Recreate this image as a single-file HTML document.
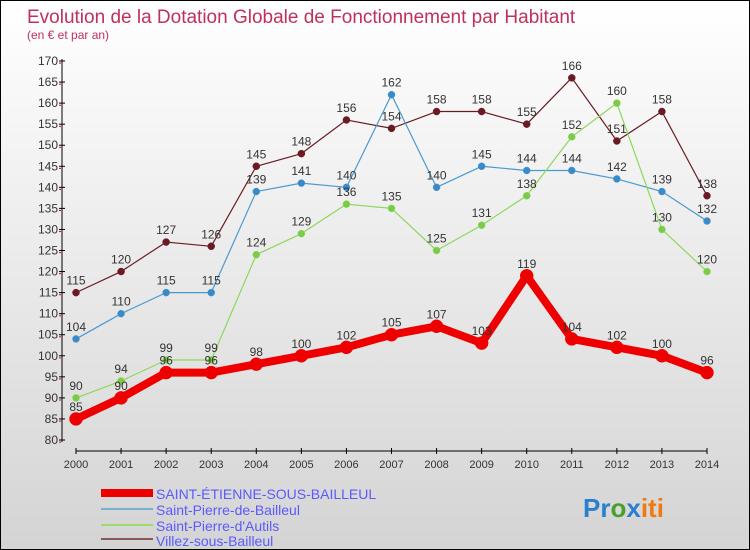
<!DOCTYPE html>
<html><head><meta charset="utf-8"><style>
body{margin:0}
#c{position:relative;width:748px;height:548px;border:1px solid #000;background:linear-gradient(#ffffff,#d4d4d4);font-family:"Liberation Sans",sans-serif;overflow:hidden}
text{font-family:"Liberation Sans",sans-serif}
</style></head><body>
<div id="c">
<svg id="s" width="748" height="548">
<text x="26" y="22" font-size="19" fill="#c0305a">Evolution de la Dotation Globale de Fonctionnement par Habitant</text>
<text x="26" y="38" font-size="12" fill="#c0305a">(en € et par an)</text>
<g id="axes"></g><g id="series"></g>
<g>
<rect x="100" y="488" width="52" height="8" fill="#e00"/>
<text x="155" y="498" font-size="14" fill="#5a5aff">SAINT-ÉTIENNE-SOUS-BAILLEUL</text>
<rect x="100" y="507" width="52" height="2" fill="#7aaed0"/>
<text x="155" y="514" font-size="14" fill="#5a5aff">Saint-Pierre-de-Bailleul</text>
<rect x="100" y="523" width="52" height="2" fill="#9edc6e"/>
<text x="155" y="530" font-size="14" fill="#5a5aff">Saint-Pierre-d'Autils</text>
<rect x="100" y="537" width="52" height="2" fill="#8a5a5a"/>
<text x="155" y="545" font-size="14" fill="#5a5aff">Villez-sous-Bailleul</text>
</g>
<text x="582" y="516" font-size="26" font-weight="bold"><tspan fill="#2a7fd0">Pr</tspan><tspan fill="#4aa02a">o</tspan><tspan fill="#2a7fd0">x</tspan><tspan fill="#f07a10">iti</tspan></text>
</svg>
<script>
const years=[2000,2001,2002,2003,2004,2005,2006,2007,2008,2009,2010,2011,2012,2013,2014];
const yTicks=[80,85,90,95,100,105,110,115,120,125,130,135,140,145,150,155,160,165,170];
const stEtienne=[85,90,96,96,98,100,102,105,107,103,119,104,102,100,96];
const stEtienneLabels=[85,90,96,96,98,100,102,105,107,103,119,104,102,100,96];
const spBailleul=[104,110,115,115,139,141,140,162,140,145,144,144,142,139,132];
const spAutils=[90,94,99,99,124,129,136,135,125,131,138,152,160,130,120];
const villez=[115,120,127,126,145,148,156,154,158,158,155,166,151,158,138];
const NS="http://www.w3.org/2000/svg";
const xS=i=>75+i*(631/14);
const yS=v=>439-(v-80)*(379/90);
function mk(p,t,a){const e=document.createElementNS(NS,t);for(const k in a)e.setAttribute(k,a[k]);p.appendChild(e);return e;}
const ax=document.getElementById('axes');
let l=mk(ax,'line',{x1:61,y1:58,x2:61,y2:441,stroke:'#000'});


l=mk(ax,'line',{x1:75,y1:450,x2:706,y2:450,stroke:'#000'});


yTicks.forEach(v=>{const y=yS(v);
mk(ax,'line',{x1:58,y1:y,x2:64,y2:y,stroke:'#000'});
mk(ax,'line',{x1:58,y1:y+2.1*1.0,x2:60,y2:y+2.1,stroke:'#e00'});
const t=mk(ax,'text',{x:57,y:y+4,'font-size':12,'text-anchor':'end',fill:'#333'});t.textContent=v;

});
years.forEach((yr,i)=>{const x=xS(i);
mk(ax,'line',{x1:x,y1:447,x2:x,y2:453,stroke:'#000'});
const t=mk(ax,'text',{x:x,y:467,'font-size':11,'text-anchor':'middle',fill:'#333'});t.textContent=yr;

});
const sg=document.getElementById('series');
function series(vals,color,w,r,name,dot){
const g=mk(sg,'g',{});


mk(g,'polyline',{points:vals.map((v,i)=>xS(i)+','+yS(v)).join(' '),fill:'none',stroke:color,'stroke-width':w,'stroke-linejoin':'round'});
vals.forEach((v,i)=>{const c=mk(g,'circle',{cx:xS(i),cy:yS(v),r:r,fill:dot,stroke:color,'stroke-width':0.5});


const t=mk(g,'text',{x:xS(i),y:yS(v)-8,'font-size':12,'text-anchor':'middle',fill:'#333'});t.textContent=v;

});
}
series(villez,'#6a1a22',1.2,3.5,'series-villez-sous-bailleul','#6a1a22');
series(spBailleul,'#4a9ad0',1.2,3.5,'series-saint-pierre-de-bailleul','#3a8ac8');
series(spAutils,'#8ed85a',1.2,3.5,'series-saint-pierre-d-autils','#7acc48');
series(stEtienne,'#ee0000',8,6.5,'series-saint-etienne-sous-bailleul','#ee0000');
</script>
</div>
</body></html>
